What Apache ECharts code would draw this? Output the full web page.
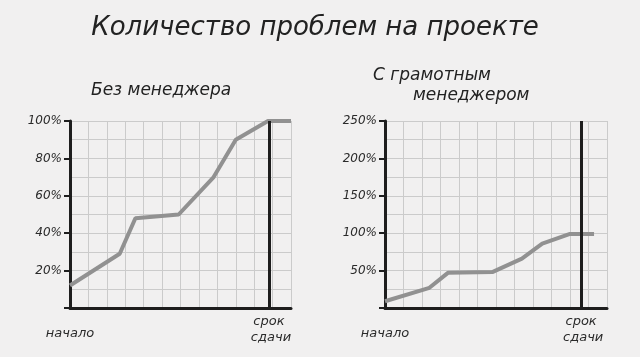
<!DOCTYPE html>
<html>
<head>
<meta charset="utf-8">
<script src="https://cdn.jsdelivr.net/npm/echarts@6/dist/echarts.min.js"></script>
<style>html,body{margin:0;padding:0;background:#f1f0f0;}#c{width:640px;height:357px;}</style>
</head>
<body>
<div id="c"></div>
<script>
const titleText = 'Количество проблем на проекте';
const leftTitle = 'Без менеджера';
const rightTitle1 = 'С грамотным';
const rightTitle2 = 'менеджером';
const startLabel = 'начало';
const deadlineLabel = 'срок\n сдачи';

// left chart: without manager (x in grid cells, y in %)
const leftX = [0, 2.7, 3.55, 5.9, 7.8, 9.0, 10.75, 12];
const leftY = [12, 29, 48, 50, 70, 90, 100, 100];
const leftDeadline = 10.8;

// right chart: with a competent manager
const rightX = [0, 2.4, 3.4, 5.8, 7.4, 8.5, 10.0, 11.3];
const rightY = [9, 27, 47, 48, 66, 86, 99, 99];
const rightDeadline = 10.6;

const leftYMax = 100, leftYStep = 20;
const rightYMax = 250, rightYStep = 50;

const font = '"DejaVu Sans", sans-serif';
const ink = '#1e1e1e';

function pts(xs, ys){ return xs.map((x,i)=>[x, ys[i]]); }

function xAxisFor(idx, deadline){
  return {
    type:'value', gridIndex: idx, min:0, max:12, interval:1,
    axisLine:{show:true, onZero:false, lineStyle:{color:ink, width:3}},
    axisTick:{show:false},
    splitLine:{show:true, lineStyle:{color:'#cbcbcb', width:1}},
    axisLabel:{
      customValues:[0, deadline],
      formatter: v => v === 0 ? '{s|' + startLabel + '}' : '{d|срок}\n{d| сдачи}',
      color:'#2a2a2a', fontFamily:font, fontStyle:'italic', fontSize:13, margin:6,
      rich:{
        s:{fontFamily:font, fontStyle:'italic', fontSize:13, color:'#2a2a2a', padding:[13,0,0,0]},
        d:{fontFamily:font, fontStyle:'italic', fontSize:13, color:'#2a2a2a', lineHeight:16}
      }
    }
  };
}
function yAxisFor(idx, max, step){
  return {
    type:'value', gridIndex: idx, min:0, max:max, interval:step,
    axisLine:{show:true, lineStyle:{color:ink, width:3}},
    axisTick:{show:true, length:6, lineStyle:{color:ink, width:2}},
    splitLine:{show:true, lineStyle:{color:'#cbcbcb', width:1}},
    minorTick:{show:false, splitNumber:2},
    minorSplitLine:{show:true, lineStyle:{color:'#cbcbcb', width:1}},
    axisLabel:{
      formatter: v => v === 0 ? '' : v + '%',
      color:'#2a2a2a', fontFamily:font, fontStyle:'italic', fontSize:12, margin:8
    }
  };
}
function seriesFor(idx, xs, ys, deadline){
  return {
    type:'line', xAxisIndex:idx, yAxisIndex:idx, data:pts(xs, ys),
    symbol:'none', lineStyle:{color:'#919191', width:4}, z:3,
    markLine:{
      silent:true, symbol:'none', label:{show:false},
      lineStyle:{color:ink, width:3, type:'solid'},
      data:[{xAxis: deadline}]
    }
  };
}

const chart = echarts.init(document.getElementById('c'), null, {renderer:'canvas'});
const tStyle = {fontFamily:font, fontStyle:'italic', fontWeight:'normal', color:'#222'};
chart.setOption({
  backgroundColor:'#f1f0f0',
  animation:false,
  title:[
    {text:titleText, left:310, top:10, textAlign:'center',
     textStyle:Object.assign({fontSize:26}, tStyle)},
    {text:leftTitle, left:86, top:77, textStyle:Object.assign({fontSize:17}, tStyle)},
    {text:rightTitle1, left:368, top:62, textStyle:Object.assign({fontSize:17}, tStyle)},
    {text:rightTitle2, left:408, top:82, textStyle:Object.assign({fontSize:17}, tStyle)}
  ],
  grid:[
    {left:70, top:121, width:221, height:187},
    {left:385, top:121, width:222, height:187}
  ],
  xAxis:[xAxisFor(0, leftDeadline), xAxisFor(1, rightDeadline)],
  yAxis:[yAxisFor(0, leftYMax, leftYStep), yAxisFor(1, rightYMax, rightYStep)],
  series:[seriesFor(0, leftX, leftY, leftDeadline), seriesFor(1, rightX, rightY, rightDeadline)]
});
</script>
</body>
</html>
